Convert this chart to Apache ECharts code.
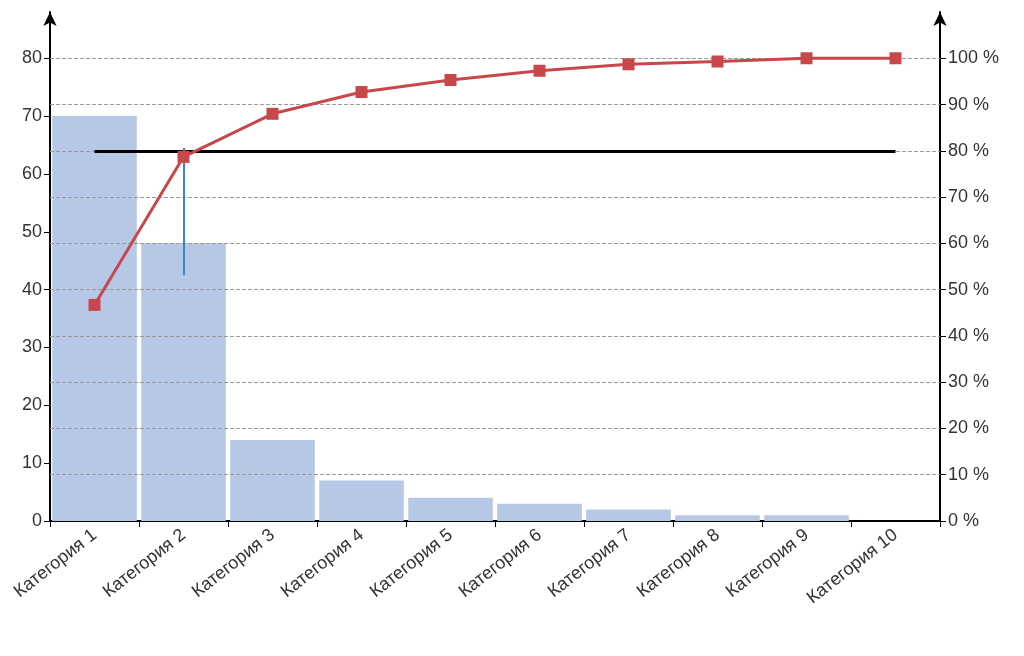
<!DOCTYPE html>
<html>
<head>
<meta charset="utf-8">
<script src="https://cdn.jsdelivr.net/npm/echarts@6/dist/echarts.min.js"></script>
<style>html,body,#main{width:100%;height:100%;margin:0;background:#fff}</style>
</head>
<body>
<div id="main"></div>
<script>
var categories = ['Категория 1','Категория 2','Категория 3','Категория 4','Категория 5','Категория 6','Категория 7','Категория 8','Категория 9','Категория 10']
var counts = [70, 48, 14, 7, 4, 3, 2, 1, 1, 0]
var cumulative = [46.7, 78.7, 88, 92.7, 95.3, 97.3, 98.7, 99.3, 100, 100]
var percentTicks = [10, 20, 30, 40, 50, 60, 70, 80, 90, 100]
var threshold = 80

var chart = echarts.init(document.getElementById('main'))
var axisText = { color: '#333', fontSize: 18, fontFamily: 'Liberation Sans' }

chart.setOption({
  animation: false,
  grid: { left: 50, right: 84, top: 12, bottom: 135 },
  xAxis: {
    type: 'category',
    data: categories,
    axisLine: { lineStyle: { color: '#000', width: 2 } },
    axisTick: { show: true, length: 6, lineStyle: { color: '#000' } },
    axisLabel: { rotate: 38, color: '#333', fontSize: 18, fontFamily: 'Liberation Sans', margin: 12 }
  },
  yAxis: [{
    type: 'value', min: 0, max: 88, interval: 10,
    axisLine: { show: true, symbol: ['none', 'arrow'], symbolSize: [10, 14], lineStyle: { color: '#000', width: 2 } },
    axisTick: { show: true, length: 6, lineStyle: { color: '#000' } },
    splitLine: { show: false },
    axisLabel: Object.assign({ showMaxLabel: false, formatter: function (v) { return v % 10 === 0 ? v : '' } }, axisText)
  }, {
    type: 'value', min: 0, max: 110, interval: 10,
    axisLine: { show: true, symbol: ['none', 'arrow'], symbolSize: [10, 14], lineStyle: { color: '#000', width: 2 } },
    axisTick: { show: true, length: 6, lineStyle: { color: '#000' } },
    splitLine: { show: false },
    axisLabel: Object.assign({ showMaxLabel: false, formatter: function (v) { return v <= 100 ? v + ' %' : '' } }, axisText)
  }],
  series: [{
    type: 'bar',
    data: counts,
    barCategoryGap: '5%',
    itemStyle: { color: '#b6c8e6' },
    markLine: {
      silent: true, symbol: 'none', label: { show: false },
      lineStyle: { type: 'dashed', color: '#999', width: 1 },
      data: percentTicks.map(function (p) { return { yAxis: p * 0.8 } })
    }
  }, {
    type: 'line',
    yAxisIndex: 1,
    data: cumulative,
    symbol: 'rect',
    symbolSize: 12,
    lineStyle: { color: '#c8474a', width: 3 },
    itemStyle: { color: '#c8474a' },
    z: 5,
    markLine: {
      silent: true, symbol: 'none', label: { show: false },
      data: [
        [{ coord: ['Категория 1', threshold], lineStyle: { color: '#000', width: 3, type: 'solid' } },
         { coord: ['Категория 10', threshold] }]
      ]
    }
  }, {
    type: 'line',
    data: [null, 42.5],
    symbol: 'none',
    lineStyle: { width: 0 },
    markLine: {
      silent: true, symbol: 'none', label: { show: false },
      data: [
        [{ coord: ['Категория 2', 42.5], lineStyle: { color: '#3a86d0', width: 2, type: 'solid' } },
         { coord: ['Категория 2', 64.5] }]
      ]
    }
  }]
})
</script>
</body>
</html>
